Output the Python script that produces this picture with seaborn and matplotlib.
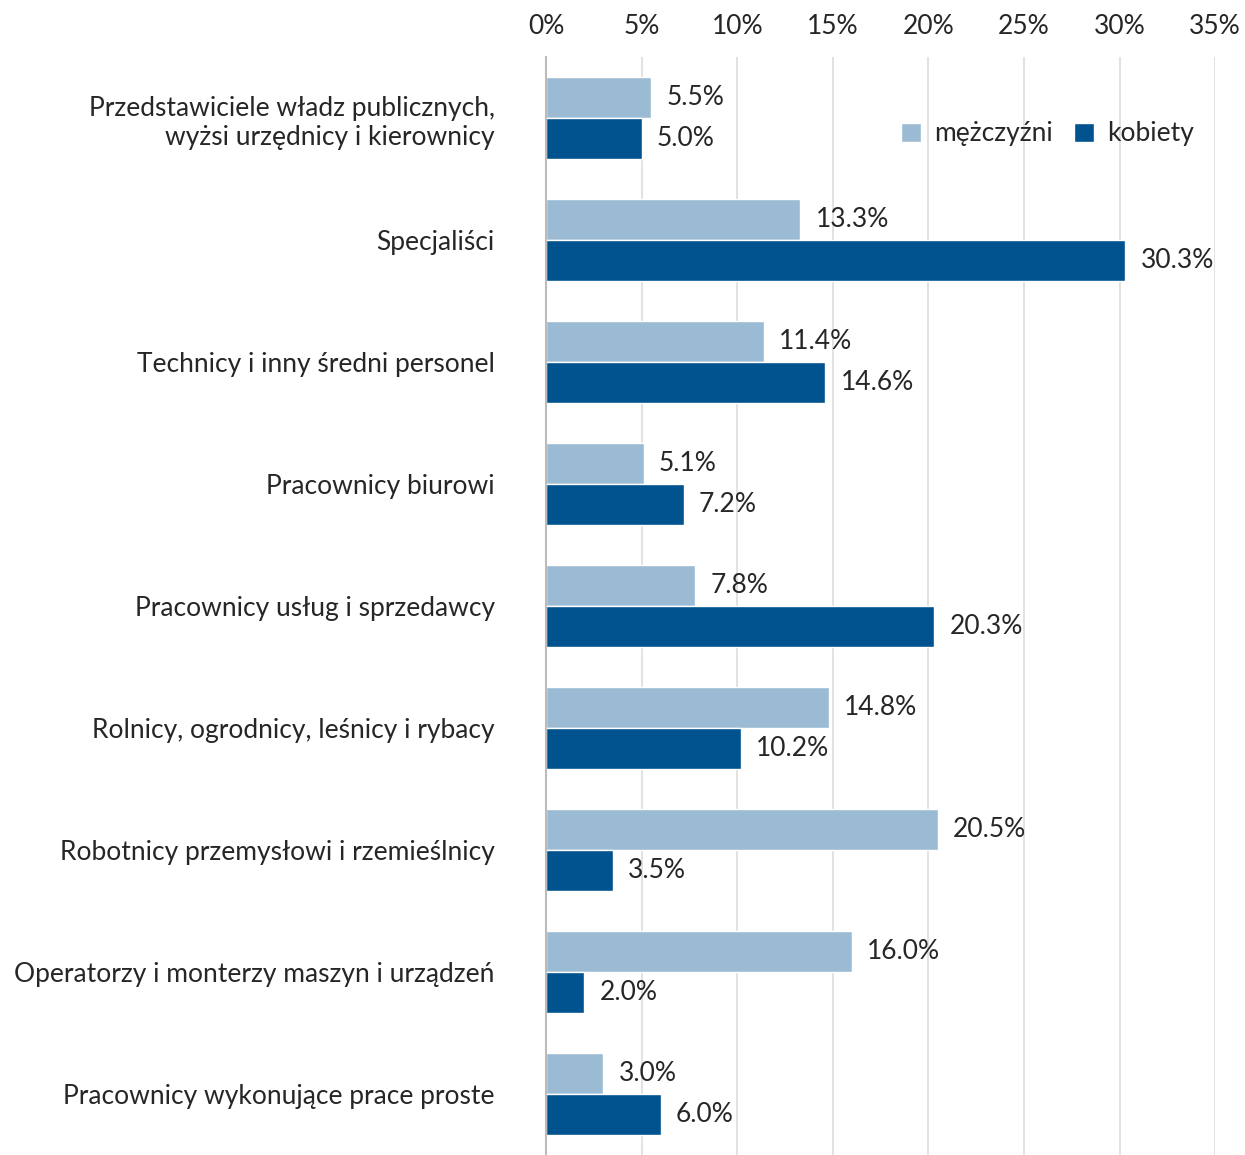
import pandas as pd
import matplotlib
matplotlib.use("Agg")
import matplotlib.pyplot as plt
import seaborn as sns

categories = [
    "Przedstawiciele władz publicznych,\nwyżsi urzędnicy i kierownicy",
    "Specjaliści",
    "Technicy i inny średni personel",
    "Pracownicy biurowi",
    "Pracownicy usług i sprzedawcy",
    "Rolnicy, ogrodnicy, leśnicy i rybacy",
    "Robotnicy przemysłowi i rzemieślnicy",
    "Operatorzy i monterzy maszyn i urządzeń",
    "Pracownicy wykonujące prace proste",
]
men = [5.5, 13.3, 11.4, 5.1, 7.8, 14.8, 20.5, 16.0, 3.0]
women = [5.0, 30.3, 14.6, 7.2, 20.3, 10.2, 3.5, 2.0, 6.0]
series = ["mężczyźni", "kobiety"]
x_ticks = [0, 5, 10, 15, 20, 25, 30, 35]

colors = ["#9bbbd4", "#00538f"]

df = pd.DataFrame({
    "kategoria": categories * 2,
    "płeć": [series[0]] * len(men) + [series[1]] * len(women),
    "wartość": men + women,
})

sns.set_style("white")
plt.rcParams["font.family"] = ["Lato", "DejaVu Sans"]

fig = plt.figure(figsize=(12.45, 11.55), dpi=100)
ax = fig.add_axes([0.4386, 0.0, 0.5374, 0.9506])

sns.barplot(data=df, y="kategoria", x="wartość", hue="płeć", orient="h",
            palette=colors, width=0.67, saturation=1, ax=ax)

ax.set_xlim(0, 35)
ax.set_xticks(x_ticks)
ax.set_xticklabels([f"{t}%" for t in x_ticks])
ax.xaxis.tick_top()
ax.tick_params(axis="x", length=0, labelsize=19, pad=13)
ax.tick_params(axis="y", length=0, labelsize=19, pad=37)
for lbl in ax.get_yticklabels():
    lbl.set_horizontalalignment("right")
ax.set_xlabel("")
ax.set_ylabel("")
ax.grid(axis="x", color="#dddddd", linewidth=1.2)
ax.set_axisbelow(True)
for s in ["top", "right", "bottom"]:
    ax.spines[s].set_visible(False)
ax.spines["left"].set_color("#bbbbbb")
ax.spines["left"].set_linewidth(1.5)

for cont in ax.containers:
    ax.bar_label(cont, labels=[f"{v:.1f}%" for v in cont.datavalues],
                 padding=11, fontsize=19)

ax.legend(loc="upper right", bbox_to_anchor=(1.004, 0.963), frameon=False,
          ncol=2, fontsize=19, handlelength=0.75, handleheight=0.75,
          handletextpad=0.5, columnspacing=0.8)

fig.savefig("out.png", dpi=100)
